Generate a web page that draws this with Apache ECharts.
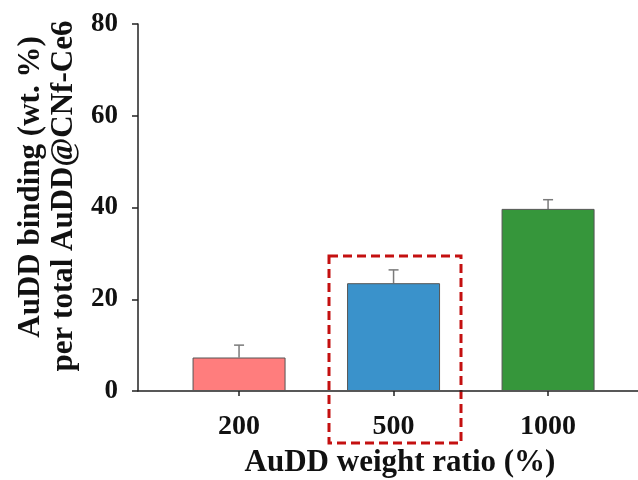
<!DOCTYPE html>
<html><head><meta charset="utf-8">
<script src="https://cdn.jsdelivr.net/npm/echarts@6/dist/echarts.min.js"></script>
<style>html,body{margin:0;padding:0;background:#fff}#c{width:638px;height:480px}</style>
</head><body><div id="c"></div>
<script>
var categories = ['200', '500', '1000'];
var positions = [1, 2, 3];
var values = [7.3, 23.5, 39.7];
var errors = [2.7, 2.9, 2.0];
var colors = ['#FF7D7D', '#3A92CB', '#36963B'];
var yTicks = [0, 20, 40, 60, 80];

var font = 'Liberation Serif';
var chart = echarts.init(document.getElementById('c'));
var barData = values.map(function (v, i) {
  return { value: [positions[i], v], itemStyle: { color: colors[i] } };
});
var errData = values.map(function (v, i) { return [positions[i], v, v + errors[i]]; });

chart.setOption({
  animation: false,
  grid: { left: 138, right: 0, top: 24, bottom: 89 },
  xAxis: {
    type: 'value', min: 0.346, max: 3.582,
    splitLine: { show: false },
    axisLine: { show: true, onZero: false, lineStyle: { color: '#222', width: 1.5 } },
    axisTick: { show: true, customValues: positions, length: 5, lineStyle: { color: '#222', width: 1.5 } },
    axisLabel: {
      customValues: positions, margin: 22,
      formatter: function (v) { return categories[positions.indexOf(Math.round(v))]; },
      fontFamily: font, fontWeight: 'bold', fontSize: 28, color: '#111'
    }
  },
  yAxis: {
    type: 'value', min: 0, max: 80, interval: 20,
    splitLine: { show: false },
    axisLine: { show: true, lineStyle: { color: '#222', width: 1.5 } },
    axisTick: { show: true, length: 6, lineStyle: { color: '#222', width: 1.5 } },
    axisLabel: { margin: 20, fontFamily: font, fontWeight: 'bold', fontSize: 27, color: '#111',
      formatter: function (v) { return yTicks.indexOf(v) >= 0 ? String(v) : ''; } }
  },
  series: [
    { type: 'bar', data: barData, barWidth: 93,
      itemStyle: { borderColor: '#555', borderWidth: 1 } },
    { type: 'custom', data: errData, z: 1,
      renderItem: function (params, api) {
        var x = api.value(0);
        var p0 = api.coord([x, api.value(1)]);
        var p1 = api.coord([x, api.value(2)]);
        var s = { stroke: '#7a7a7a', lineWidth: 1.5 };
        return { type: 'group', children: [
          { type: 'line', shape: { x1: p0[0], y1: p0[1], x2: p1[0], y2: p1[1] }, style: s },
          { type: 'line', shape: { x1: p1[0] - 5, y1: p1[1], x2: p1[0] + 5, y2: p1[1] }, style: s }
        ] };
      }
    }
  ],
  graphic: [
    { type: 'text', x: 400, y: 463, style: { text: 'AuDD weight ratio (%)', font: 'bold 31px "Liberation Serif"', fill: '#111', align: 'center', verticalAlign: 'middle' } },
    { type: 'text', x: 31, y: 187, rotation: Math.PI / 2, style: { text: 'AuDD binding (wt. %)', font: 'bold 31px "Liberation Serif"', fill: '#111', align: 'center', verticalAlign: 'middle' } },
    { type: 'text', x: 64, y: 196, rotation: Math.PI / 2, style: { text: 'per total AuDD@CNf-Ce6', font: 'bold 31px "Liberation Serif"', fill: '#111', align: 'center', verticalAlign: 'middle' } },
    { type: 'rect', shape: { x: 329, y: 256, width: 132, height: 187 }, style: { fill: 'none', stroke: '#C41010', lineWidth: 3, lineDash: [9, 5] } }
  ]
});
</script></body></html>
